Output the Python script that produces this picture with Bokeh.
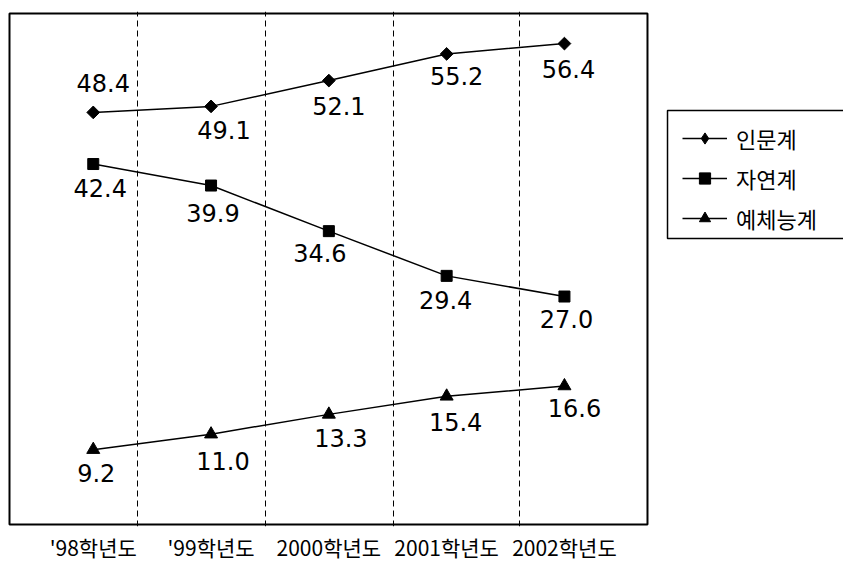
import math
from bokeh.plotting import figure
from bokeh.models import Range1d, FixedTicker, Legend, LegendItem, BoxAnnotation
from bokeh.embed import file_html
from bokeh.resources import INLINE
from bokeh.core.properties import value

# ---- data ----
years = ["'98학년도", "'99학년도", "2000학년도", "2001학년도", "2002학년도"]
humanities = [48.4, 49.1, 52.1, 55.2, 56.4]   # 인문계
natural = [42.4, 39.9, 34.6, 29.4, 27.0]      # 자연계
arts = [9.2, 11.0, 13.3, 15.4, 16.6]          # 예체능계
series_names = ["인문계", "자연계", "예체능계"]

# ---- layout / style constants ----
BOX = dict(left=-0.711, right=4.705, bottom=0.5, top=59.9)       # plot box (data units)
LEGEND_BOX = dict(left=4.875, right=7.5, bottom=33.74, top=48.62)  # legend frame, runs off the page edge
SEPARATORS = [0.375, 1.462, 2.548, 3.618]                      # dashed dividers (x units)
HUM_DX, HUM_DY = [10, 13, 10, 10, 4], [-29, 24, 25, 22, 25]
NAT_DX, NAT_DY = [7, 2, -9, -1, 2], [24, 27, 22, 24, 22]
ART_DX, ART_DY = [3, 12, 12, 9, 10], [23, 27, 24, 26, 22]

xs = list(range(len(years)))

p = figure(width=843, height=569, output_backend="svg", toolbar_location=None,
           x_range=Range1d(-0.728, 6.369), y_range=Range1d(0.267, 60.13),
           y_axis_location=None,
           min_border_left=7, min_border_right=0, min_border_top=11, min_border_bottom=43)
p.background_fill_color = "white"
p.border_fill_color = "white"
p.outline_line_color = None

p.add_layout(BoxAnnotation(fill_alpha=0, line_color="black", line_alpha=1.0,
                           line_width=2, **BOX))
p.add_layout(BoxAnnotation(fill_color="white", fill_alpha=1.0, line_color="black",
                           line_alpha=1.0, line_width=1.5, **LEGEND_BOX))

p.ygrid.visible = False
p.xgrid.ticker = FixedTicker(ticks=SEPARATORS)
p.xgrid.grid_line_color = "black"
p.xgrid.grid_line_dash = "6 4"
p.xgrid.grid_line_width = 1

p.xaxis.ticker = FixedTicker(ticks=xs)
p.xaxis.major_label_overrides = {i: years[i] for i in xs}
p.xaxis.major_tick_line_color = None
p.xaxis.major_tick_out = 0
p.xaxis.major_tick_in = 0
p.xaxis.minor_tick_line_color = None
p.xaxis.axis_line_color = None
p.xaxis.major_label_standoff = 5
p.xaxis.major_label_text_font = "Noto Sans CJK KR"
p.xaxis.major_label_text_font_size = "21px"
p.xaxis.major_label_text_color = "black"

# 인문계
l1 = p.line(xs, humanities, line_color="black", line_width=1.5)
proxy1 = p.scatter(xs, humanities, marker="diamond", size=11, color="black")
p.scatter(xs, humanities, marker="square", angle=math.pi / 4, size=9, color="black")
# 자연계
l2 = p.line(xs, natural, line_color="black", line_width=1.5)
m2 = p.scatter(xs, natural, marker="square", size=11, color="black")
# 예체능계
l3 = p.line(xs, arts, line_color="black", line_width=1.5)
m3 = p.scatter(xs, arts, marker="triangle", size=13, color="black")

def labels(vals, dx, dy):
    p.text(x=xs, y=vals, text=[f"{v:.1f}" for v in vals], x_offset=dx, y_offset=dy,
           text_align="center", text_baseline="middle",
           text_font=value("DejaVu Sans"), text_font_size="24px", text_color="black")

labels(humanities, HUM_DX, HUM_DY)
labels(natural, NAT_DX, NAT_DY)
labels(arts, ART_DX, ART_DY)

legend = Legend(items=[
    LegendItem(label=series_names[0], renderers=[l1, proxy1]),
    LegendItem(label=series_names[1], renderers=[l2, m2]),
    LegendItem(label=series_names[2], renderers=[l3, m3]),
], location=(663, 280))
legend.margin = 0
legend.padding = 12
legend.spacing = 8
legend.glyph_width = 45
legend.glyph_height = 28
legend.label_standoff = 9
legend.label_text_font = "Noto Sans CJK KR"
legend.label_text_font_size = "22px"
legend.label_text_color = "black"
legend.border_line_color = "white"
legend.border_line_alpha = 0.0
legend.background_fill_alpha = 0.0
p.add_layout(legend)

open("out.html", "w").write(file_html(p, INLINE))
